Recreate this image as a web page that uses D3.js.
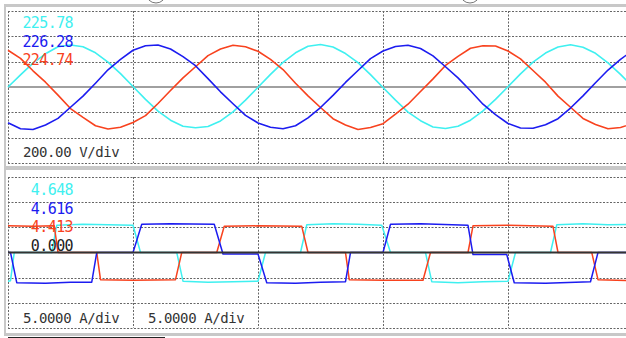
<!DOCTYPE html>
<html>
<head>
<meta charset="utf-8">
<script src="https://cdn.jsdelivr.net/npm/d3@7"></script>
<style>
  html, body { margin: 0; padding: 0; background: #fff; overflow: hidden; }
  svg { display: block; }
  text { font-family: "DejaVu Sans Mono", "Liberation Mono", monospace; }
</style>
</head>
<body>
<div id="chart"></div>
<script>
// ── Data ─────────────────────────────────────────────────────────────────
// voltage samples, one per ms, 0..50 ms (V)
const voltCyan = [0, 96, 188, 262, 318, 332, 318, 270, 196, 106, 4, -98, -190, -262, -310, -322, -312, -268, -196, -104,
  -2, 100, 194, 270, 322, 336, 316, 264, 192, 98, -4, -104, -198, -266, -316, -328, -310, -262, -188, -98,
  2, 104, 196, 268, 316, 334, 314, 266, 190, 100, 0];
const voltBlue = [-282, -330, -336, -300, -248, -160, -72, 30, 136, 218, 290, 326, 332, 300, 240, 168, 66, -38, -132, -224,
  -284, -318, -330, -306, -244, -162, -66, 36, 130, 224, 284, 320, 330, 304, 246, 160, 72, -30, -136, -218,
  -288, -324, -326, -298, -250, -166, -70, 34, 134, 218, 290];
const voltRed = [290, 226, 128, 38, -64, -170, -240, -306, -332, -318, -280, -226, -130, -28, 72, 160, 248, 300, 330, 318,
  282, 218, 138, 30, -70, -162, -250, -300, -336, -320, -290, -214, -136, -36, 64, 170, 242, 306, 326, 324,
  284, 222, 130, 38, -72, -160, -248, -296, -330, -320, -288];

// current breakpoints [ms, A]
const currCyan = [[0, -5.7], [0.2, -5.6], [0.5, 0], [3.5, 0], [3.9, 5.4], [6, 5.6], [8, 5.5], [10, 5.4], [10.6, 0], [13.5, 0],
  [14, -5.7], [16, -5.9], [18, -5.8], [20, -5.7], [20.6, 0], [23.4, 0], [23.9, 5.5], [26, 5.7], [28, 5.6], [29.9, 5.4],
  [30.6, 0], [33.4, 0], [33.9, -5.8], [36, -6.0], [38, -5.8], [40, -5.7], [40.6, 0], [43.4, 0], [43.9, 5.5], [46, 5.7],
  [48, 5.5], [50, 5.6]];
const currBlue = [[0, 0], [0.2, 0], [0.7, -6.0], [3, -6.1], [5, -5.9], [6.7, -5.9], [7.1, 0], [10, 0], [10.7, 5.6], [13, 5.7],
  [16.5, 5.6], [17.2, -0.3], [20, -0.3], [20.7, -6.0], [23, -6.1], [25, -5.9], [27, -5.8], [27.4, 0], [30, 0], [30.6, 5.6],
  [33, 5.7], [36.8, 5.4], [37.2, -0.4], [39.9, -0.4], [40.5, -6.0], [43, -6.1], [46.6, -5.8], [47.2, 0], [50, 0]];
const currRed = [[0, 5.3], [2, 5.2], [3.7, 5.3], [4, 0], [7.1, 0], [7.4, -5.4], [10, -5.5], [13.4, -5.4], [13.9, 0], [16.7, 0],
  [17.3, 5.2], [20, 5.3], [23.5, 5.2], [24, 0], [27, 0], [27.3, -5.4], [30, -5.5], [33.2, -5.5], [33.8, 0], [36.8, 0],
  [37.2, 5.3], [40, 5.4], [43.6, 5.2], [44, 0], [46.7, 0], [47.2, -5.4], [50, -5.6]];

const rmsVolt = ["225.78", "226.28", "224.74"];
const rmsCurr = ["4.648", "4.616", "4.413", "0.000"];
const voltScaleLabel = "200.00 V/div";
const currScaleLabels = ["5.0000 A/div", "5.0000 A/div"];
const timeDivs = [0, 10, 20, 30, 40, 50];

const COL = { cyan: "#3ff0f0", blue: "#1c1cf0", red: "#f8421e", dark: "#2a2a2a" };

// ── Layout ────────────────────────────────────────────────────────────────
const W = 626, H = 338;
const svg = d3.select("#chart").append("svg").attr("width", W).attr("height", H);

const x = d3.scaleLinear().domain([0, 50]).range([8, 633]);
const yV = d3.scaleLinear().domain([-600, 600]).range([163, 11]);
const yI = d3.scaleLinear().domain([-15, 15]).range([328, 177]);

// gray frame bars
svg.append("rect").attr("x", 5).attr("y", 4).attr("width", W).attr("height", 3).attr("fill", "#c8c8c8");
svg.append("rect").attr("x", 5).attr("y", 166).attr("width", W).attr("height", 4).attr("fill", "#c8c8c8");
svg.append("rect").attr("x", 5).attr("y", 333).attr("width", W).attr("height", 3).attr("fill", "#c8c8c8");
svg.append("rect").attr("x", 4).attr("y", 4).attr("width", 2).attr("height", 332).attr("fill", "#c8c8c8");
svg.append("line").attr("x1", 8).attr("x2", 165).attr("y1", 337.5).attr("y2", 337.5)
  .attr("stroke", "#222").attr("stroke-width", 1.2);

// cut-off knobs at the top edge
[156, 470].forEach((cx) => {
  svg.append("circle").attr("cx", cx).attr("cy", -7).attr("r", 10)
    .attr("fill", "none").attr("stroke", "#777").attr("stroke-width", 1);
});

function panel(yScale, divs) {
  const g = svg.append("g");
  const step = (yScale.domain()[1] - yScale.domain()[0]) / 6;
  const levels = d3.range(-3, 4).filter((k) => k !== 0).map((k) => k * step);
  g.selectAll("line.h").data(levels).join("line")
    .attr("x1", x(0)).attr("x2", W)
    .attr("y1", (d) => Math.round(yScale(d)) + 0.5).attr("y2", (d) => Math.round(yScale(d)) + 0.5)
    .attr("stroke", "#666").attr("stroke-width", 1).attr("stroke-dasharray", "2 1.5");
  g.selectAll("line.v").data(divs).join("line")
    .attr("x1", (d) => Math.round(x(d)) + 0.5).attr("x2", (d) => Math.round(x(d)) + 0.5)
    .attr("y1", yScale.range()[1]).attr("y2", yScale.range()[0])
    .attr("stroke", "#666").attr("stroke-width", 1).attr("stroke-dasharray", "2 1.5");
  return g;
}

// ── Voltage panel ─────────────────────────────────────────────────────────
panel(yV, timeDivs);
svg.append("line").attr("x1", x(0)).attr("x2", W).attr("y1", yV(0)).attr("y2", yV(0))
  .attr("stroke", "#a0a0a0").attr("stroke-width", 2);

const vLine = d3.line().x((d, i) => x(i)).y((d) => yV(d));
[[voltCyan, COL.cyan], [voltRed, COL.red], [voltBlue, COL.blue]].forEach(([vals, c]) => {
  svg.append("path").attr("d", vLine(vals)).attr("fill", "none")
    .attr("stroke", c).attr("stroke-width", 1.6).attr("stroke-linejoin", "round");
});

const vCols = [COL.cyan, COL.blue, COL.red];
svg.append("g").selectAll("text").data(rmsVolt).join("text")
  .attr("x", 73).attr("y", (d, i) => 28 + i * 18.5)
  .attr("text-anchor", "end").attr("font-size", 15).attr("letter-spacing", -0.6)
  .attr("fill", (d, i) => vCols[i]).text((d) => d);
svg.append("text").attr("x", 23).attr("y", 157).attr("font-size", 14).attr("letter-spacing", -0.4)
  .attr("fill", "#333").text(voltScaleLabel);

// ── Current panel ─────────────────────────────────────────────────────────
panel(yI, timeDivs);

const iLine = d3.line().x((d) => x(d[0])).y((d) => yI(d[1]));
[[currCyan, COL.cyan], [currRed, COL.red], [currBlue, COL.blue]].forEach(([vals, c]) => {
  svg.append("path").attr("d", iLine(vals)).attr("fill", "none")
    .attr("stroke", c).attr("stroke-width", 1.5).attr("stroke-linejoin", "round");
});
svg.append("line").attr("x1", x(0)).attr("x2", W).attr("y1", yI(0)).attr("y2", yI(0))
  .attr("stroke", "#333").attr("stroke-width", 2);

const iCols = [COL.cyan, COL.blue, COL.red, "#222"];
svg.append("g").selectAll("text").data(rmsCurr).join("text")
  .attr("x", 73).attr("y", (d, i) => 195 + i * 18.7)
  .attr("text-anchor", "end").attr("font-size", 15).attr("letter-spacing", -0.6)
  .attr("fill", (d, i) => iCols[i]).text((d) => d);
svg.append("g").selectAll("text").data(currScaleLabels).join("text")
  .attr("x", (d, i) => 23 + i * 125).attr("y", 323).attr("font-size", 14).attr("letter-spacing", -0.4)
  .attr("fill", "#333").text((d) => d);
</script>
</body>
</html>
